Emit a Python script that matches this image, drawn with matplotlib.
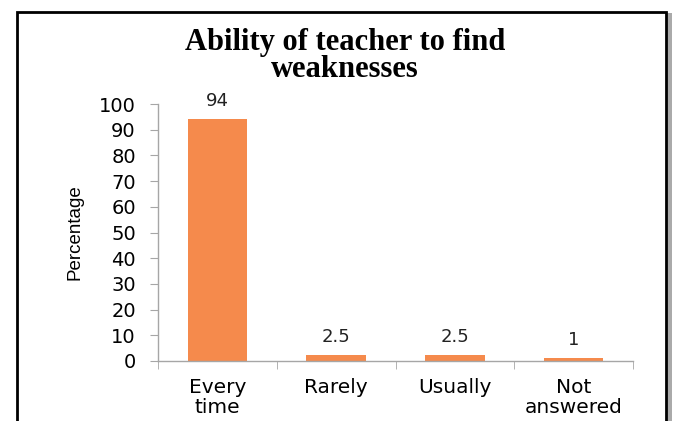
import matplotlib.pyplot as plt
from matplotlib.patches import Rectangle
from matplotlib.ticker import FixedLocator

# data
categories = ['Every\ntime', 'Rarely', 'Usually', 'Not\nanswered']
values = [94, 2.5, 2.5, 1]
labels = ['94', '2.5', '2.5', '1']
yticks = [0, 10, 20, 30, 40, 50, 60, 70, 80, 90, 100]

bar_color = '#F58A4C'
axis_color = '#A6A6A6'

fig = plt.figure(figsize=(6.8, 4.21), dpi=100)
ax = fig.add_axes([158 / 680, 1 - 361 / 421, 475 / 680, 257 / 421])

x = range(len(categories))
ax.bar(x, values, width=0.5, color=bar_color, zorder=2)

# value labels above bars
for xi, v, t in zip(x, values, labels):
    ax.text(xi, v + 3.5, t, ha='center', va='bottom', fontsize=13,
            family='DejaVu Sans', color='#222222')

ax.set_xlim(-0.5, len(categories) - 0.5)
ax.set_ylim(0, 100)
ax.set_yticks(yticks)
ax.set_yticklabels([str(t) for t in yticks], fontsize=14, family='DejaVu Sans')
ax.set_xticks(list(x))
ax.set_xticklabels(categories, fontsize=14.5, family='DejaVu Sans', linespacing=1.1)
ax.xaxis.set_minor_locator(FixedLocator([i - 0.5 for i in range(len(categories) + 1)]))
ax.tick_params(axis='x', which='major', length=0, pad=12)
ax.tick_params(axis='x', which='minor', length=6, color=axis_color, direction='out')
ax.tick_params(axis='y', length=6, color=axis_color, direction='out', pad=10)

for s in ['top', 'right']:
    ax.spines[s].set_visible(False)
for s in ['left', 'bottom']:
    ax.spines[s].set_color(axis_color)
    ax.spines[s].set_linewidth(1.0)

ax.set_ylabel('Percentage', fontsize=13.5, family='Liberation Sans', labelpad=11)

fig.text(345 / 680, 1 - 56 / 421, 'Ability of teacher to find\nweaknesses',
         ha='center', va='center', fontsize=22, fontweight='bold',
         family='Liberation Serif', linespacing=0.95)

# outer frame with a soft shadow
fig.patches.append(Rectangle((667 / 680, -0.1), 5 / 680, 1.07, transform=fig.transFigure,
                             facecolor='#AAAAAA', edgecolor='none', zorder=0))
fig.patches.append(Rectangle((17 / 680, -0.1), 649 / 680, 1 - 12 / 421 + 0.1,
                             transform=fig.transFigure, fill=False,
                             edgecolor='black', linewidth=2))

fig.savefig('out.png', dpi=100)
